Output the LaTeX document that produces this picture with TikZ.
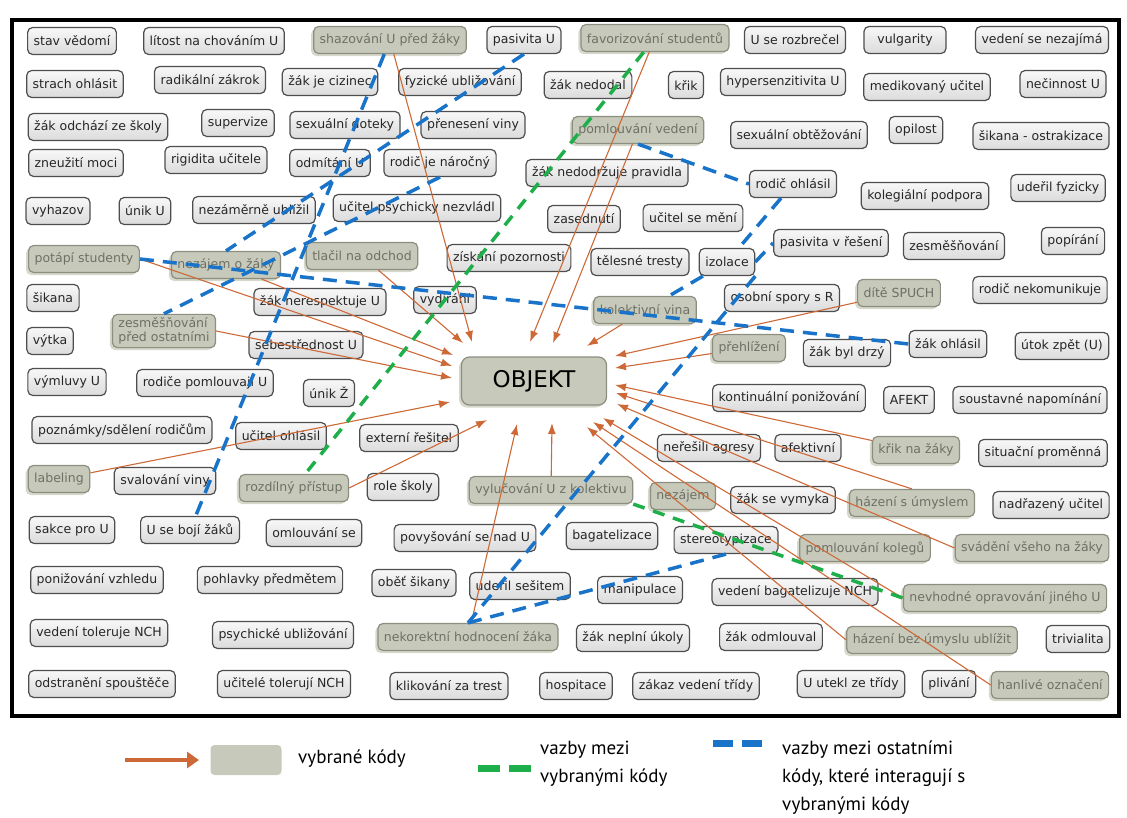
\documentclass[tikz,border=0pt]{standalone}
\usepackage{fontspec}
\setmainfont{DejaVu Sans}
\newfontfamily\legfont{PT Sans}
\usetikzlibrary{arrows.meta,shadows}

\definecolor{selfill}{RGB}{199,202,186}
\definecolor{selshade}{RGB}{214,216,204}
\definecolor{seltext}{RGB}{110,112,102}
\definecolor{seldraw}{RGB}{140,142,128}
\definecolor{codedraw}{RGB}{78,78,78}
\definecolor{orng}{RGB}{205,105,55}
\definecolor{grn}{RGB}{30,175,75}
\definecolor{blu}{RGB}{25,115,200}

\begin{document}
\begin{tikzpicture}[x=1pt, y=-1pt,
    code/.style={draw=codedraw, line width=1.2pt, rounded corners=5pt,
        top color=white!97!black, bottom color=white!86!black,
        minimum height=27pt, inner xsep=6pt, text=black!85,
        font=\fontsize{12.5}{14}\selectfont},
    sel/.style={code, draw=seldraw, top color=selfill, bottom color=selfill, text=seltext,
        drop shadow={shadow xshift=-2.5pt, shadow yshift=-2.5pt, fill=selshade, opacity=1}},
    arr/.style={orng, line width=1.1pt, -{Latex[length=11pt,width=8pt]}},
    grnlink/.style={grn, line width=3.5pt, dash pattern=on 12pt off 9pt},
    blulink/.style={blu, line width=3.5pt, dash pattern=on 14pt off 9pt},
    legtxt/.style={anchor=west, align=left, inner sep=0pt, font=\legfont\fontsize{19}{28}\selectfont}]

    \useasboundingbox (0,0) rectangle (1127,817);
    \draw[line width=4.5pt] (12,20) rectangle (1119,716);

    \node[code] (stav) at (72,41) {stav vědomí};
    \node[code] (litost) at (214,41) {lítost na chováním U};
    \node[sel] (shaz) at (390,40) {shazování U před žáky};
    \node[code] (pasU) at (524,40) {pasivita U};
    \node[sel] (fav) at (655,38) {favorizování studentů};
    \node[code] (rozbrec) at (795,40) {U se rozbrečel};
    \node[code, minimum width=82pt] (vulg) at (905,40) {vulgarity};
    \node[code] (vedneza) at (1042,40) {vedení se nezajímá};

    \node[code] (strach) at (75,84) {strach ohlásit};
    \node[code] (radik) at (210,80) {radikální zákrok};
    \node[code] (cizinec) at (330,82) {žák je cizinec};
    \node[code] (fyz) at (460,82) {fyzické ubližování};
    \node[code] (nedodal) at (588,85) {žák nedodal};
    \node[code] (krik) at (686,85) {křik};
    \node[code] (hyper) at (783,82) {hypersenzitivita U};
    \node[code] (medik) at (927,87) {medikovaný učitel};
    \node[code] (necin) at (1063,84) {nečinnost U};

    \node[code] (odchazi) at (98,127) {žák odchází ze školy};
    \node[code] (superv) at (238,123) {supervize};
    \node[code] (sexdot) at (345,125) {sexuální doteky};
    \node[code] (prenes) at (473,125) {přenesení viny};
    \node[sel] (pomved) at (638,130) {pomlouvání vedení};
    \node[code] (sexobt) at (799,135) {sexuální obtěžování};
    \node[code] (opil) at (916,130) {opilost};
    \node[code] (ostrak) at (1041,136) {šikana - ostrakizace};

    \node[code] (zneuz) at (76,163) {zneužití moci};
    \node[code] (rigid) at (216,160) {rigidita učitele};
    \node[code] (odmit) at (330,163) {odmítání U};
    \node[code] (rodnar) at (440,163) {rodič je náročný};
    \node[code] (nedodrz) at (607,173) {žák nedodržuje pravidla};
    \node[code] (rodohl) at (793,184) {rodič ohlásil};

    \node[code] (vyhaz) at (58,211) {vyhazov};
    \node[code] (unikU) at (145,211) {únik U};
    \node[code] (nezam) at (254,210) {nezáměrně ublížil};
    \node[code] (psychnez) at (417,208) {učitel psychicky nezvládl};
    \node[code] (zased) at (584,219) {zasednutí};
    \node[code] (menise) at (693,218) {učitel se mění};
    \node[code] (koleg) at (925,196) {kolegiální podpora};
    \node[code] (uderfyz) at (1058,188) {udeřil fyzicky};

    \node[sel] (potapi) at (84,259) {potápí studenty};
    \node[sel] (nezzak) at (226,265) {nezájem o žáky};
    \node[sel] (tlacil) at (362,256) {tlačil na odchod};
    \node[code] (ziskani) at (509,258) {získání pozornosti};
    \node[code] (telesne) at (640,262) {tělesné tresty};
    \node[code] (izol) at (727,262) {izolace};
    \node[code] (pasres) at (831,243) {pasivita v řešení};
    \node[code] (zesm) at (954,246) {zesměšňování};
    \node[code] (popir) at (1073,241) {popírání};

    \node[code] (sikana) at (53,298) {šikana};
    \node[code] (nerespekt) at (320,302) {žák nerespektuje U};
    \node[code] (vydir) at (445,300) {vydírání};
    \node[sel] (kolvina) at (645,310) {kolektivní vina};
    \node[code] (osobni) at (782,298) {osobní spory s R};
    \node[sel] (spuch) at (899,293) {dítě SPUCH};
    \node[code] (nekomun) at (1040,290) {rodič nekomunikuje};

    \node[code] (vytka) at (50,341) {výtka};
    \node[sel, align=left] (zesmpred) at (164,331) {zesměšňování\\před ostatními};
    \node[code] (sebestr) at (306,345) {sebestřednost U};
    \node[sel] (prehl) at (749,348) {přehlížení};
    \node[code] (drzy) at (847,353) {žák byl drzý};
    \node[code] (zakohl) at (948,344) {žák ohlásil};
    \node[code] (utok) at (1062,346) {útok zpět (U)};

    \node[sel, minimum width=145pt, minimum height=48pt, rounded corners=8pt, text=black,
        font=\fontsize{23}{26}\selectfont] (obj) at (534,381) {OBJEKT};

    \node[code] (vymluvy) at (67,382) {výmluvy U};
    \node[code] (rodpoml) at (205,383) {rodiče pomlouvají U};
    \node[code] (unikZ) at (329,393) {únik Ž};
    \node[code] (kontin) at (789,398) {kontinuální ponižování};
    \node[code] (afekt) at (909,400) {AFEKT};
    \node[code] (soust) at (1030,400) {soustavné napomínání};

    \node[code] (poznamky) at (122,430) {poznámky/sdělení rodičům};
    \node[code] (ucitohl) at (281,436) {učitel ohlásil};
    \node[code] (extern) at (409,438) {externí řešitel};
    \node[code] (neresili) at (709,448) {neřešili agresy};
    \node[code] (afektivni) at (808,448) {afektivní};
    \node[sel] (kriknaz) at (916,450) {křik na žáky};
    \node[code] (situac) at (1043,453) {situační proměnná};

    \node[sel] (label) at (59,479) {labeling};
    \node[code] (svalov) at (165,481) {svalování viny};
    \node[sel] (rozdil) at (294,488) {rozdílný přístup};
    \node[code] (roleskoly) at (403,487) {role školy};
    \node[sel] (vyluc) at (551,490) {vylučování U z kolektivu};
    \node[sel] (nezajem) at (683,496) {nezájem};
    \node[code] (vymyka) at (783,500) {žák se vymyka};
    \node[sel] (hazumysl) at (912,503) {házení s úmyslem};
    \node[code] (nadraz) at (1051,505) {nadřazený učitel};

    \node[code] (sakce) at (72,530) {sakce pro U};
    \node[code] (bojizaku) at (190,530) {U se bojí žáků};
    \node[code] (omlouv) at (314,533) {omlouvání se};
    \node[code] (povys) at (465,538) {povyšování se nad U};
    \node[code] (bagat) at (612,536) {bagatelizace};
    \node[code] (stereo) at (726,540) {stereotypizace};
    \node[sel] (pomkol) at (865,548) {pomlouvání kolegů};
    \node[sel] (svadeni) at (1032,548) {svádění všeho na žáky};

    \node[code] (ponizvz) at (97,580) {ponižování vzhledu};
    \node[code] (pohlavky) at (270,580) {pohlavky předmětem};
    \node[code] (obet) at (414,583) {oběť šikany};
    \node[code] (udersesit) at (520,586) {udeřil sešitem};
    \node[code] (manip) at (640,590) {manipulace};
    \node[code] (vedbag) at (795,592) {vedení bagatelizuje NCH};
    \node[sel] (nevhod) at (1005,598) {nevhodné opravování jiného U};

    \node[code] (vedtol) at (99,633) {vedení toleruje NCH};
    \node[code] (psychubl) at (283,635) {psychické ubližování};
    \node[sel] (nekor) at (468,637) {nekorektní hodnocení žáka};
    \node[code] (neplni) at (633,638) {žák neplní úkoly};
    \node[code] (odmlouval) at (771,637) {žák odmlouval};
    \node[sel] (hazbez) at (932,640) {házení bez úmyslu ublížit};
    \node[code] (trivial) at (1078,639) {trivialita};

    \node[code] (odstran) at (102,684) {odstranění spouštěče};
    \node[code] (ucittol) at (284,684) {učitelé tolerují NCH};
    \node[code] (klikov) at (449,686) {klikování za trest};
    \node[code] (hospit) at (576,686) {hospitace};
    \node[code] (zakaz) at (696,686) {zákaz vedení třídy};
    \node[code] (utekl) at (851,684) {U utekl ze třídy};
    \node[code] (plivani) at (949,684) {plivání};
    \node[sel] (hanlive) at (1050,685) {hanlivé označení};

    \draw[arr] (shaz) -- ([shift={(-62,-39)}]obj.center);
    \draw[arr] (tlacil) -- ([shift={(-71,-38)}]obj.center);
    \draw[arr] (fav) -- ([shift={(-4,-39)}]obj.center);
    \draw[arr] (pomved) -- ([shift={(19,-38)}]obj.center);
    \draw[arr] (nezzak) -- ([shift={(-81,-26)}]obj.center);
    \draw[arr] (potapi.east) -- ([shift={(-82,-15)}]obj.center);
    \draw[arr] (zesmpred.east) -- ([shift={(-82,-3)}]obj.center);
    \draw[arr] (label) -- ([shift={(-84,21)}]obj.center);
    \draw[arr] (rozdil.east) -- ([shift={(-47,39)}]obj.center);
    \draw[arr] (nekor) -- ([shift={(-17,43)}]obj.center);
    \draw[arr] (vyluc) -- ([shift={(18,42)}]obj.center);
    \draw[arr] (kolvina) -- ([shift={(53,-35)}]obj.center);
    \draw[arr] (spuch) -- ([shift={(81,-25)}]obj.center);
    \draw[arr] (prehl) -- ([shift={(81,-13)}]obj.center);
    \draw[arr] (kriknaz) -- ([shift={(81,4)}]obj.center);
    \draw[arr] (hazumysl.north) -- ([shift={(82,12)}]obj.center);
    \draw[arr] (svadeni.west) -- ([shift={(83,23)}]obj.center);
    \draw[arr] (nevhod.west) -- ([shift={(69,37)}]obj.center);
    \draw[arr] (hanlive.west) -- ([shift={(59,41)}]obj.center);
    \draw[arr] (hazbez.west) -- ([shift={(53,46)}]obj.center);

    \draw[grnlink] (fav) -- (rozdil);
    \draw[grnlink] (vyluc.south east) -- (nevhod.west);

    \draw[blulink] (shaz) -- (bojizaku);
    \draw[blulink] (pasU.south) -- (nezzak.north);
    \draw[blulink] (rodnar.south) -- (zesmpred.north);
    \draw[blulink] (potapi.east) -- (zakohl.west);
    \draw[blulink] (izol.south east) -- (nekor.north);
    \draw[blulink] (rodohl) -- (izol);
    \draw[blulink] (izol) -- (kolvina);
    \draw[blulink] (izol.east) -- (pasres.west);
    \draw[blulink] (pomved.south) -- (rodohl.west);
    \draw[blulink] (nekor.north) -- (stereo.south);

    \coordinate (legA) at (125,760);
    \coordinate (legB) at (199,760);
    \draw[orng, line width=4pt, -{Triangle[length=12pt,width=16pt]}] (legA) -- (legB);
    \node[fill=selfill, rounded corners=4pt, minimum width=71pt, minimum height=30pt] (legsel) at (246,760) {};
    \node[legtxt] (legt1) at (298,759) {vybrané kódy};

    \coordinate (legC) at (478,768);
    \coordinate (legD) at (531,768);
    \draw[grn, line width=7pt, dash pattern=on 22pt off 9pt] (legC) -- (legD);
    \node[legtxt] (legt2) at (540,764) {vazby mezi\\vybranými kódy};

    \coordinate (legE) at (713,743);
    \coordinate (legF) at (762,743);
    \draw[blu, line width=7pt, dash pattern=on 20pt off 9pt] (legE) -- (legF);
    \node[legtxt] (legt3) at (782,778) {vazby mezi ostatními\\kódy, které interagují s\\vybranými kódy};

\end{tikzpicture}
\end{document}
